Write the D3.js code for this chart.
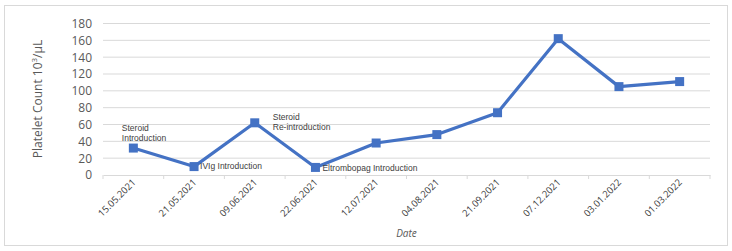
<!DOCTYPE html>
<html><head><meta charset="utf-8">
<script src="https://cdn.jsdelivr.net/npm/d3@7/dist/d3.min.js"></script>
<style>body{margin:0;background:#fff}svg{display:block}</style>
</head><body><svg id="c" width="732" height="251"></svg>
<script>
const categories = ["15.05.2021","21.05.2021","09.06.2021","22.06.2021","12.07.2021","04.08.2021","21.09.2021","07.12.2021","03.01.2022","01.03.2022"];
const values = [32,10,62,9,38,48,74,162,105,111];
const yTicks = [0,20,40,60,80,100,120,140,160,180];
const annotations = [
  {i:0, lines:["Steroid","Introduction"]},
  {i:1, lines:["IVIg Introduction"]},
  {i:2, lines:["Steroid","Re-introduction"]},
  {i:3, lines:["Eltrombopag Introduction"]}
];

const svg = d3.select("#c");
const font = "'Open Sans', Calibri, 'Liberation Sans', sans-serif";
const font2 = "'Liberation Sans', Arial, sans-serif";
svg.append("rect").attr("x",4.5).attr("y",5.5).attr("width",723).attr("height",240)
  .attr("fill","#fff").attr("stroke","#d9d9d9");

const m = {l:103, r:710, t:23.5, b:175};
const x = d3.scaleBand().domain(categories).range([m.l,m.r]);
const y = d3.scaleLinear().domain([0,180]).range([m.b,m.t]);
const cx = d => x(d)+x.bandwidth()/2;

// gridlines
svg.append("g").selectAll("line").data(yTicks.filter(t=>t>0)).join("line")
  .attr("x1",m.l).attr("x2",m.r).attr("y1",d=>y(d)).attr("y2",d=>y(d))
  .attr("stroke","#d9d9d9").attr("stroke-width",1);

// y axis labels
const ya = svg.append("g").attr("transform",`translate(${m.l},0)`)
  .call(d3.axisLeft(y).tickValues(yTicks).tickSize(0).tickPadding(11));
ya.select(".domain").remove();
ya.selectAll("text").attr("font-family",font).attr("font-size",12).attr("fill","#595959");

// x axis
const xa = svg.append("g").attr("transform",`translate(0,${m.b})`)
  .call(d3.axisBottom(x).tickSize(0).tickPadding(0));
xa.select(".domain").attr("stroke","#d9d9d9");
xa.selectAll("text").remove();
svg.append("g").selectAll("line").data(categories.concat(["__end"])).join("line")
  .attr("x1",(d,i)=>m.l+i*x.step()).attr("x2",(d,i)=>m.l+i*x.step())
  .attr("y1",m.b).attr("y2",m.b+4).attr("stroke","#d9d9d9");
svg.append("g").selectAll("text").data(categories).join("text")
  .attr("transform",d=>`translate(${cx(d)+3},${m.b+8}) rotate(-45)`)
  .attr("text-anchor","end").attr("font-family",font).attr("font-size",9.5)
  .attr("fill","#404040").text(d=>d);

// axis titles
svg.append("text").attr("transform","translate(42,99) rotate(-90)")
  .attr("text-anchor","middle").attr("font-family",font).attr("font-size",12)
  .attr("fill","#595959").html("Platelet Count 10<tspan baseline-shift='super' font-size='8'>3</tspan>/µL");
svg.append("text").attr("x",(m.l+m.r)/2).attr("y",237).attr("text-anchor","middle")
  .attr("font-family",font).attr("font-size",10).attr("font-style","italic")
  .attr("fill","#595959").text("Date");

// line
const line = d3.line().x((d,i)=>cx(categories[i])).y(d=>y(d));
svg.append("path").datum(values).attr("d",line).attr("fill","none")
  .attr("stroke","#4472C4").attr("stroke-width",3.2).attr("stroke-linejoin","round");
svg.append("g").selectAll("rect").data(values).join("rect")
  .attr("x",(d,i)=>cx(categories[i])-4.5).attr("y",d=>y(d)-4.5)
  .attr("width",9).attr("height",9).attr("fill","#4472C4");

// annotations
const annPos = [
  {dx:-11.5, dy:-17.5},
  {dx:6, dy:2.5},
  {dx:18, dy:-3},
  {dx:7, dy:3.3}
];
annotations.forEach((a,k)=>{
  const px = cx(categories[a.i]) + annPos[k].dx;
  const py = y(values[a.i]) + annPos[k].dy;
  const t = svg.append("text").attr("font-family",font2).attr("font-size",8.5)
    .attr("fill","#404040");
  a.lines.forEach((l,j)=>t.append("tspan").attr("x",px).attr("y",py+j*10.5).text(l));
});
</script></body></html>
